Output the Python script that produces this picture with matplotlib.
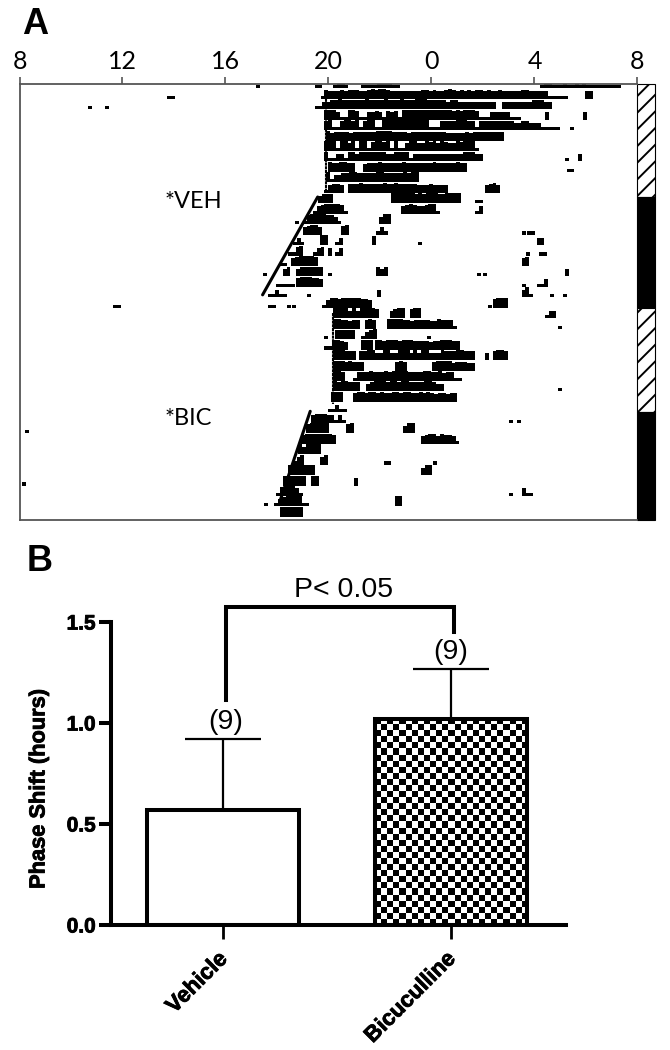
import numpy as np
import matplotlib
matplotlib.use('Agg')
import matplotlib.pyplot as plt
import matplotlib.patheffects as pe
from matplotlib.patches import Rectangle
from matplotlib.transforms import ScaledTranslation

W, H = 670, 1050

# actogram: hour of first bin and one digit per 0.15 h bin (activity level 0-4)
act_rows = [
    [(17.2, "1"), (19.46, "11"), (20.17, "1221"), (21.27, "1111222311"), (28.21, "122111211212111111111")],
    [(13.73, "11"), (19.7, "1"), (19.84, "322232333223434432222222233232234323232332322322222332222211111"), (29.97, "22")],
    [(10.66, "1"), (11.32, "1"), (19.46, "11223343333334333343334333444333332332222222222"), (26.72, "2222222233322")],
    [(19.84, "444211443112232132314444444444444343444311122222111"), (28.4, "2"), (29.9, "2")],
    [(19.84, "3411344341344114444444444441113333444331333333333223322211111"), (29.38, "1")],
    [(19.91, "4233332333333444433332333333333222223233333333")],
    [(19.84, "4441442414413443414112442243424322434441")],
    [(19.84, "41122133233343332233441222222222222233322"), (29.18, "1"), (29.7, "2")],
    [(19.97, "4334433"), (21.34, "233343333343333333433333433"), (29.25, "11")],
    [(19.9, "412233443333344333334344")],
    [(19.84, "12332"), (20.75, "33343333343343333322232222"), (26.07, "2342")],
    [(19.58, "2333"), (22.44, "444444343444334444"), (25.68, "11")],
    [(19.39, "123444431"), (22.83, "2343223441"), (25.68, "12")],
    [(18.7, "1"), (19.0, "1344443321"), (21.98, "244")],
    [(19.0, "23442"), (20.49, "34"), (21.85, "121"), (27.5, "1"), (27.7, "11")],
    [(18.61, "121"), (19.68, "44"), (20.27, "12"), (21.7, "3"), (23.48, "1"), (28.08, "22")],
    [(18.42, "1134"), (19.39, "123"), (19.97, "2"), (20.27, "12"), (27.67, "1"), (28.18, "11")],
    [(18.09, "11"), (18.55, "2344443"), (27.5, "23")],
    [(17.44, "1"), (18.22, "23"), (18.74, "2443433"), (19.97, "1"), (21.85, "323"), (25.75, "1"), (26.0, "1"), (29.18, "2")],
    [(17.96, "11111"), (18.74, "3444332"), (27.5, "1"), (28.08, "112")],
    [(17.64, "11211"), (19.16, "1"), (21.9, "2"), (27.5, "241"), (28.6, "1"), (29.1, "1")],
]
bic_rows = [
    [(11.62, "11"), (17.64, "11"), (18.38, "1"), (18.6, "1"), (19.75, "1244344444332"), (26.2, "1"), (26.37, "3444")],
    [(20.17, "444424244443"), (22.37, "2344"), (23.15, "344"), (28.4, "122")],
    [(20.17, "4433233"), (21.4, "343"), (22.28, "444433233332243331"), (28.9, "1")],
    [(19.84, "1"), (20.27, "33333"), (21.27, "1234"), (23.84, "1")],
    [(19.84, "114432"), (21.27, "444"), (21.79, "4434443444333323344433")],
    [(20.17, "444333"), (21.2, "334422442244424244222433344333"), (26.07, "2"), (26.37, "3443")],
    [(20.17, "44434333"), (22.6, "343"), (24.03, "34444233322")],
    [(20.17, "443"), (20.97, "1333433343444433334433423311")],
    [(20.17, "4344333"), (21.47, "23444344344333344322"), (28.9, "1")],
    [(20.1, "444"), (20.95, "344344343344344334343233233")],
    [(19.97, "11211")],
    [(19.33, "233322121"), (27.0, "1"), (27.33, "1")],
    [(8.2, "1"), (19.13, "344444"), (20.69, "34"), (22.89, "244")],
    [(18.94, "344444443"), (23.58, "2344243321")],
    [(18.81, "424444")],
    [(18.61, "124"), (19.68, "24"), (22.14, "11"), (24.06, "1")],
    [(18.42, "4444444"), (23.58, "244")],
    [(8.1, "1"), (18.22, "444444"), (19.33, "44"), (21.0, "2")],
    [(17.96, "1344421"), (27.0, "1"), (27.5, "211")],
    [(17.5, "1"), (17.9, "123444411"), (22.57, "44")],
    [(18.12, "444444")],
]
bin_hours = 0.15
level_height = [0, 0.3, 0.72, 0.86, 0.95]
hour_ticks = [8, 12, 16, 20, 24, 28, 32]
hour_labels = ['8', '12', '16', '20', '0', '4', '8']

# light schedule bar on the right
light_starts = [-0.41, 10.4, 21.0, 31.0]
light_ends = [10.4, 21.0, 31.0, 41.3]
light_hatched = [True, False, True, False]

# onset lines (hour, row)
veh_onset = ([19.91, 19.91], [0.6, 10.0])
veh_shift = ([19.58, 17.44], [10.4, 19.76])
bic_onset = ([20.19, 20.19], [21.5, 30.2])
bic_shift = ([19.29, 18.1], [30.9, 39.6])

# phase shift bars
groups = ['Vehicle', 'Bicuculline']
shift_mean = [0.57, 1.02]
shift_sem = [0.35, 0.245]
group_n = ['(9)', '(9)']
shift_ticks = [0.0, 0.5, 1.0, 1.5]

plt.rcParams['font.family'] = ['Liberation Sans', 'DejaVu Sans']
plt.rcParams['hatch.linewidth'] = 1.4
fig = plt.figure(figsize=(W / 100, H / 100), dpi=100, facecolor='white')


def make_axes(left, right, top, bottom):
    return fig.add_axes([left / W, 1 - bottom / H, (right - left) / W, (bottom - top) / H])


# panel A
ax = make_axes(19.5, 655, 84, 520)
ax.set_xlim(8, 8 + (655 - 19.5) / 25.75)
ax.set_ylim(41.3, -0.41)

for i, row in enumerate(act_rows + bic_rows):
    for start, levels in row:
        for j, d in enumerate(levels):
            ax.bar(start + j * bin_hours, -level_height[int(d)], width=bin_hours * 1.02, bottom=i,
                   align='edge', color='black', linewidth=0)

for xs, ys in (veh_onset, bic_onset):
    ax.plot(xs, ys, color='black', lw=1.5, ls=(0, (1.5, 0.3)))
for xs, ys in (veh_shift, bic_shift):
    ax.plot(xs, ys, color='black', lw=2.2, solid_capstyle='round')

for a, b, hatched in zip(light_starts, light_ends, light_hatched):
    if hatched:
        ax.add_patch(Rectangle((32, a), 0.68, b - a, facecolor='white', edgecolor='black',
                               hatch='//', lw=0.8, clip_on=False))
    else:
        ax.add_patch(Rectangle((32, a), 0.68, b - a, facecolor='black', edgecolor='black',
                               lw=0.8, clip_on=False))

ax.text(13.65, 10.8, '*VEH', family=['Lato', 'DejaVu Sans'], fontsize=17, va='center')
ax.text(13.65, 31.6, '*BIC', family=['Lato', 'DejaVu Sans'], fontsize=17, va='center')

ax.spines['right'].set_visible(False)
for s in ['left', 'top', 'bottom']:
    ax.spines[s].set_color('#555555')
    ax.spines[s].set_linewidth(1.3)
ax.spines['top'].set_bounds(8, 32)
ax.spines['bottom'].set_bounds(8, 32)
ax.xaxis.tick_top()
ax.set_xticks(hour_ticks)
ax.set_xticklabels(hour_labels, family=['Lato', 'DejaVu Sans'], fontsize=18)
ax.tick_params(axis='x', length=5, width=1.2, color='#555555', pad=3)
ax.set_yticks([])

fig.text(22 / W, 1 - 34 / H, 'A', fontsize=26, fontweight='bold')
fig.text(27 / W, 1 - 571 / H, 'B', fontsize=26, fontweight='bold')

# panel B
ax2 = make_axes(111, 566, 622, 925)
ax2.set_xlim(-0.491, 1.504)
ax2.set_ylim(0, 1.5)
x = np.arange(len(groups))
bar_w = 0.67

ax2.bar(x[0], shift_mean[0], width=bar_w, facecolor='white', edgecolor='black', lw=2.9, zorder=2)

# checker fill of the second bar
n_rows = int(shift_mean[1] * 202 / 6)
n_cols = int(bar_w * 228 / 6)
checker = np.indices((n_rows, n_cols)).sum(axis=0) % 2
ax2.imshow(checker, cmap='gray', aspect='auto', interpolation='nearest', zorder=2,
           extent=(x[1] - bar_w / 2, x[1] + bar_w / 2, 0, shift_mean[1]))
ax2.bar(x[1], shift_mean[1], width=bar_w, facecolor='none', edgecolor='black', lw=2.9, zorder=3)
ax2.set_xlim(-0.491, 1.504)
ax2.set_ylim(0, 1.5)
ax2.set_aspect('auto')

ax2.errorbar(x, shift_mean, yerr=[[0, 0], shift_sem], fmt='none', ecolor='black',
             elinewidth=1.6, capsize=27.5, capthick=1.6, zorder=1)

for i in range(len(groups)):
    top = shift_mean[i] + shift_sem[i]
    ax2.text(x[i] + 0.01 * (1 - i), top + 0.02, group_n[i], ha='center', va='bottom', fontsize=20.5)

ax2.plot([0.013, 0.013, 1.013, 1.013], [1.115, 1.575, 1.575, 1.45], color='black', lw=2.9,
         clip_on=False, solid_joinstyle='miter')
ax2.text(0.53, 1.595, 'P< 0.05', ha='center', va='bottom', fontsize=20.5)

for s in ['top', 'right']:
    ax2.spines[s].set_visible(False)
for s in ['left', 'bottom']:
    ax2.spines[s].set_linewidth(2.9)
ax2.set_yticks(shift_ticks)
ax2.set_yticklabels(['%.1f' % v for v in shift_ticks], fontsize=15, fontweight='bold')
ax2.set_xticks(x)
ax2.set_xticklabels(groups, rotation=45, ha='right', rotation_mode='anchor', fontsize=16, fontweight='bold')
ax2.tick_params(axis='y', length=9, width=2.9, pad=2)
ax2.tick_params(axis='x', length=10, width=2, pad=7)

# reference text is heavier than plain bold
heavy = [pe.withStroke(linewidth=0.6, foreground='black')]
shift_left = ScaledTranslation(-6 / 100, 0, fig.dpi_scale_trans)
for label in ax2.get_xticklabels():
    label.set_transform(label.get_transform() + shift_left)
    label.set_path_effects(heavy)
for label in ax2.get_yticklabels():
    label.set_path_effects(heavy)
fig.text(39 / W, 1 - 789 / H, 'Phase Shift (hours)', rotation=90, ha='center', va='center',
         fontsize=15.7, fontweight='bold', path_effects=heavy)

fig.savefig('out.png', dpi=100)
